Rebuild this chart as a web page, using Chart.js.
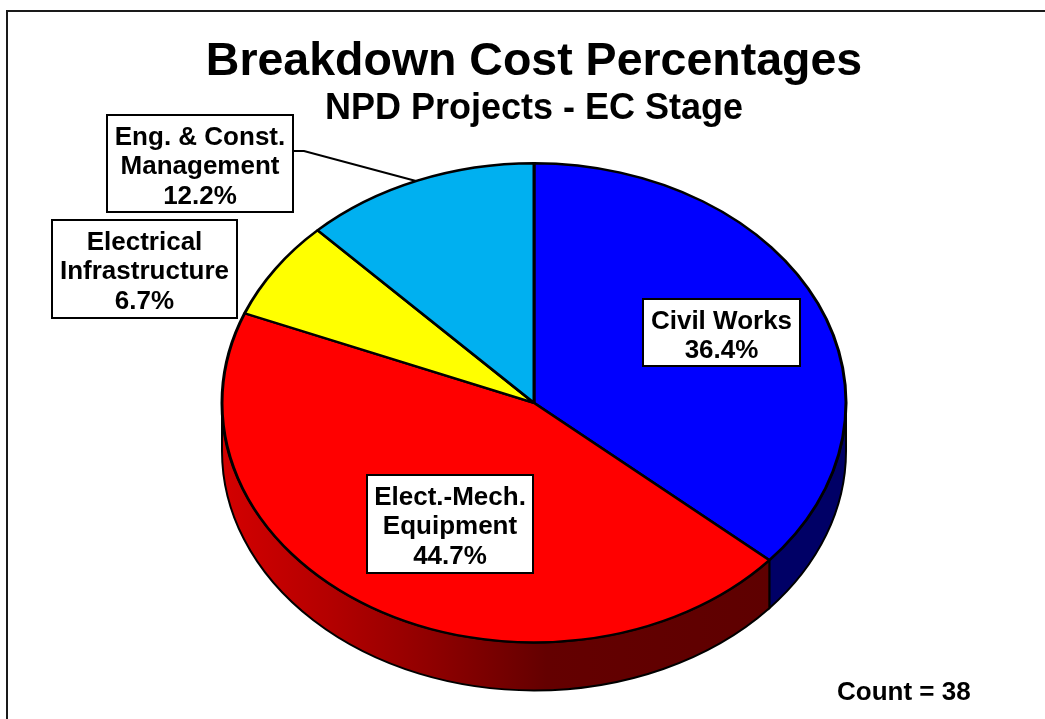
<!DOCTYPE html>
<html>
<head>
<meta charset="utf-8">
<title>Breakdown Cost Percentages</title>
<script src="https://cdn.jsdelivr.net/npm/chart.js@4"></script>
<style>
  html, body { margin: 0; padding: 0; background: #fff; overflow: hidden; }
  canvas { display: block; }
</style>
</head>
<body>
<canvas id="costChart" width="1045" height="719"></canvas>
<script>
// data
const categories = ['Civil Works', 'Elect.-Mech. Equipment', 'Electrical Infrastructure', 'Eng. & Const. Management'];
const labelLines = [['Civil Works'], ['Elect.-Mech.', 'Equipment'], ['Electrical', 'Infrastructure'], ['Eng. & Const.', 'Management']];
const percentages = [36.4, 44.7, 6.7, 12.2];
const projectCount = 38;

const sliceColors = ['#0000ff', '#ff0000', '#ffff00', '#00b0f0'];
const FONT = '"Liberation Sans", Arial, sans-serif';

// the pie is squashed to look tilted, and has a wall under the front edge
const TILT = 0.768;
const DEPTH = 48;

// label boxes: left, top, right, bottom
const labelBoxes = [[643, 299, 800, 366], [367, 475, 533, 573], [52, 220, 237, 318], [107, 115, 293, 212]];

function wallFill(ctx, index, left, right) {
    if (index !== 1) return '#000066';
    const g = ctx.createLinearGradient(left, 0, right, 0);
    g.addColorStop(0, '#d40000');
    g.addColorStop(0.17, '#b40000');
    g.addColorStop(0.35, '#8c0000');
    g.addColorStop(0.52, '#640000');
    g.addColorStop(1, '#5c0000');
    return g;
}

const tiltedPie = {
    id: 'tiltedPie',
    beforeDraw(chart) {
        const c = chart.ctx;
        c.save();
        c.strokeStyle = '#1a1a1a';
        c.lineWidth = 2;
        c.beginPath();
        c.moveTo(7, 719);
        c.lineTo(7, 11);
        c.lineTo(1045, 11);
        c.stroke();
        c.restore();
    },
    beforeDatasetsDraw(chart) {
        const c = chart.ctx;
        const arcs = chart.getDatasetMeta(0).data;
        const cx = arcs[0].x, cy = arcs[0].y, r = arcs[0].outerRadius;
        const ry = r * TILT;
        c.save();
        arcs.forEach((arc, i) => {
            // only the part between angle 0 and PI faces the viewer
            const a1 = Math.max(arc.startAngle, 0);
            const a2 = Math.min(arc.endAngle, Math.PI);
            if (a2 <= a1) return;
            c.beginPath();
            c.ellipse(cx, cy, r, ry, 0, a1, a2);
            c.ellipse(cx, cy + DEPTH, r, ry, 0, a2, a1, true);
            c.closePath();
            c.fillStyle = wallFill(c, i, cx - r, cx + r);
            c.fill();
            c.strokeStyle = '#000';
            c.lineWidth = 2;
            c.stroke();
        });
        c.restore();
        c.save();
        c.translate(cx, cy);
        c.scale(1, TILT);
        c.translate(-cx, -cy);
    },
    afterDatasetsDraw(chart) {
        chart.ctx.restore();
    },
    afterDraw(chart) {
        const c = chart.ctx;
        c.save();
        // leader line of the last label
        c.strokeStyle = '#000';
        c.lineWidth = 2;
        c.beginPath();
        c.moveTo(293, 151);
        c.lineTo(304, 151);
        c.lineTo(416, 181);
        c.stroke();

        c.font = 'bold 26px ' + FONT;
        c.textAlign = 'center';
        c.textBaseline = 'alphabetic';
        labelBoxes.forEach((box, i) => {
            const [l, t, r, b] = box;
            c.fillStyle = '#fff';
            c.fillRect(l, t, r - l, b - t);
            c.strokeStyle = '#000';
            c.lineWidth = 2;
            c.strokeRect(l, t, r - l, b - t);
            c.fillStyle = '#000';
            const lines = labelLines[i].concat(percentages[i].toFixed(1) + '%');
            lines.forEach((line, n) => {
                c.fillText(line, (l + r) / 2, t + 29.5 + n * 29.5);
            });
        });
        c.textAlign = 'left';
        c.fillText('Count = ' + projectCount, 837, 700);
        c.restore();
    }
};

const ctx = document.getElementById('costChart').getContext('2d');

const costChart = new Chart(ctx, {
    type: 'pie',
    data: {
        labels: categories,
        datasets: [{
            data: percentages,
            backgroundColor: sliceColors,
            borderColor: '#000',
            borderWidth: 3,
            clip: false
        }]
    },
    plugins: [tiltedPie],
    options: {
        responsive: false,
        animation: false,
        radius: 312,
        layout: { padding: { left: 23, right: 0, top: 0, bottom: 42 } },
        plugins: {
            legend: { display: false },
            tooltip: { enabled: false },
            title: {
                display: true,
                fullSize: false,
                text: 'Breakdown Cost Percentages',
                color: '#000',
                font: { family: FONT, size: 46.5, weight: 'bold', lineHeight: 1.1 },
                padding: { top: 37, bottom: 1 }
            },
            subtitle: {
                display: true,
                fullSize: false,
                text: 'NPD Projects - EC Stage',
                color: '#000',
                font: { family: FONT, size: 36, weight: 'bold', lineHeight: 1.1 },
                padding: 0
            }
        }
    }
});
</script>
</body>
</html>
